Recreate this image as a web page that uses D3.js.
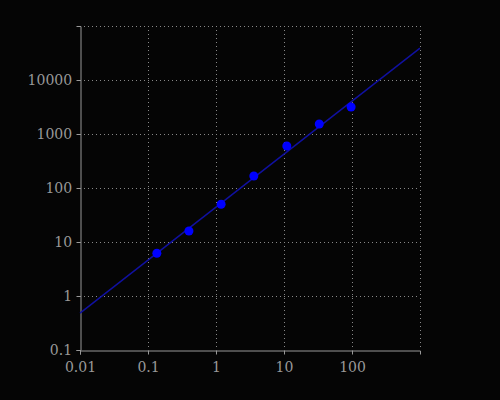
<!DOCTYPE html>
<html><head><meta charset="utf-8">
<script src="https://cdn.jsdelivr.net/npm/d3@7"></script>
<style>body{margin:0;background:#000}</style>
</head><body><svg id="c" width="500" height="400"></svg>
<script>
const xVals = [0.135, 0.4, 1.19, 3.6, 11, 33, 97];
const yVals = [6.2, 16, 50, 167, 600, 1530, 3160];
const fitX = [0.01, 1000];
const fitY = [0.48, 39000];
const xTicks = [0.01, 0.1, 1, 10, 100];
const yTicks = [0.1, 1, 10, 100, 1000, 10000];

const svg = d3.select('#c');
svg.append('rect').attr('width', 500).attr('height', 400).attr('fill', '#050505');

const x = d3.scaleLog().domain([0.01, 1000]).range([80, 420]);
const y = d3.scaleLog().domain([0.1, 100000]).range([350, 26]);

const grid = svg.append('g')
    .style('stroke', '#888').style('stroke-width', 1).style('stroke-dasharray', '1,3');
grid.selectAll('.gx').data(xTicks.slice(1).concat([1000])).enter().append('line')
    .attr('x1', d => x(d) + 0.5).attr('x2', d => x(d) + 0.5).attr('y1', 26).attr('y2', 350);
grid.selectAll('.gy').data(yTicks.slice(1).concat([100000])).enter().append('line')
    .attr('y1', d => y(d) + 0.5).attr('y2', d => y(d) + 0.5).attr('x1', 80).attr('x2', 420);

const fmt = d => String(d);
const xAxis = svg.append('g').attr('transform', 'translate(0,350.5)')
    .call(d3.axisBottom(x).tickValues(xTicks).tickFormat(fmt).tickSize(4));
const yAxis = svg.append('g').attr('transform', 'translate(80.5,0)')
    .call(d3.axisLeft(y).tickValues(yTicks).tickFormat(fmt).tickSize(4));
[xAxis, yAxis].forEach(a => {
    a.select('.domain').attr('stroke', '#999');
    a.selectAll('.tick line').attr('stroke', '#999');
    a.selectAll('text').attr('fill', '#999')
        .style('font-family', '"DejaVu Serif", serif').style('font-size', '14px');
});
xAxis.selectAll('text').attr('dy', '1em');
yAxis.selectAll('text').attr('dx', '-0.1em');

svg.append('path')
    .datum(fitX.map((d, i) => [d, fitY[i]]))
    .attr('d', d3.line().x(d => x(d[0])).y(d => y(d[1])))
    .attr('fill', 'none').attr('stroke', '#1010a0').attr('stroke-width', 1.5);

svg.selectAll('.pt').data(xVals).enter().append('circle')
    .attr('cx', d => x(d)).attr('cy', (d, i) => y(yVals[i]))
    .attr('r', 4.5).attr('fill', '#0000ff');
</script></body></html>
